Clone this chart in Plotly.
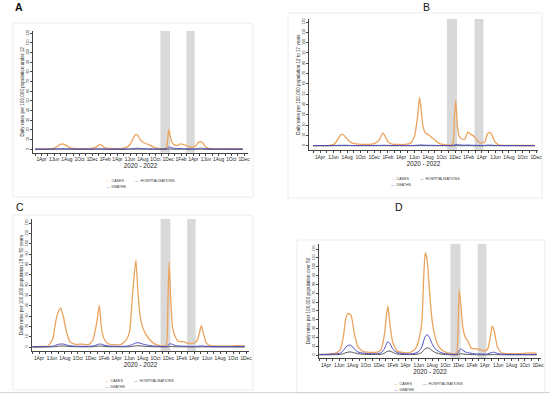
import pandas as pd
import plotly.graph_objects as go

# ---------------- data ----------------
DATES = [
    "2020-03-01", "2020-04-15", "2020-05-15", "2020-06-05", "2020-06-20", "2020-07-01", "2020-07-12",
    "2020-07-25", "2020-08-08", "2020-08-25", "2020-09-20", "2020-10-20", "2020-11-20", "2020-12-10",
    "2020-12-25", "2021-01-03", "2021-01-10", "2021-01-20", "2021-02-01", "2021-02-20", "2021-03-20",
    "2021-04-20", "2021-05-15", "2021-06-01", "2021-06-15", "2021-06-24", "2021-07-01", "2021-07-10",
    "2021-07-20", "2021-08-01", "2021-08-15", "2021-09-01", "2021-09-20", "2021-10-15", "2021-11-10",
    "2021-11-22", "2021-11-28", "2021-12-04", "2021-12-12", "2021-12-20", "2022-01-01", "2022-01-15",
    "2022-01-28", "2022-02-10", "2022-02-25", "2022-03-15", "2022-04-01", "2022-04-15", "2022-04-25",
    "2022-05-05", "2022-05-15", "2022-05-28", "2022-06-15", "2022-07-15", "2022-08-15", "2022-09-15",
    "2022-10-15", "2022-11-25",
]

A_CASES = [0.2, 0.3, 0.6, 1.5, 3.5, 5.0, 5.5, 4.5, 2.5, 1.2,
           0.8, 0.7, 0.8, 1.5, 3.0, 4.5, 5.0, 3.5, 1.5, 0.9,
           0.7, 0.8, 2.0, 5.0, 11.0, 14.5, 15.5, 14.0, 10.0, 7.5,
           6.0, 4.5, 2.5, 1.0, 0.8, 1.5, 8.0, 20.5, 13.0, 7.0,
           4.5, 4.0, 5.5, 5.0, 4.0, 2.5, 2.5, 4.0, 7.0, 8.0,
           7.0, 3.0, 1.0, 0.5, 0.4, 0.4, 0.5, 0.5]
A_DEATHS = [0.1, 0.1, 0.2, 0.3, 0.5, 0.6, 0.6, 0.5, 0.4, 0.3,
            0.2, 0.2, 0.2, 0.3, 0.4, 0.5, 0.5, 0.5, 0.3, 0.2,
            0.2, 0.2, 0.3, 0.5, 0.8, 1.0, 1.1, 1.0, 0.9, 0.7,
            0.6, 0.5, 0.4, 0.3, 0.3, 0.5, 1.2, 2.3, 2.0, 1.4,
            1.0, 0.8, 0.8, 0.7, 0.6, 0.5, 0.5, 0.6, 0.9, 1.1,
            1.0, 0.6, 0.3, 0.2, 0.2, 0.2, 0.2, 0.2]
A_HOSP = [0.0, 0.0, 0.05, 0.05, 0.1, 0.1, 0.1, 0.1, 0.1, 0.05,
          0.05, 0.05, 0.05, 0.05, 0.1, 0.1, 0.1, 0.1, 0.05, 0.05,
          0.05, 0.05, 0.05, 0.1, 0.1, 0.15, 0.15, 0.15, 0.1, 0.1,
          0.1, 0.05, 0.05, 0.05, 0.05, 0.05, 0.1, 0.2, 0.2, 0.15,
          0.1, 0.1, 0.1, 0.1, 0.05, 0.05, 0.05, 0.05, 0.1, 0.1,
          0.1, 0.05, 0.05, 0.0, 0.0, 0.0, 0.0, 0.0]

B_CASES = [0.0, 0.1, 0.3, 1.5, 6.0, 10.0, 11.0, 8.5, 5.0, 2.5,
           1.5, 1.2, 1.5, 3.0, 6.0, 10.0, 12.5, 9.0, 4.0, 1.5,
           1.2, 1.2, 2.5, 9.0, 28.0, 47.0, 35.0, 18.0, 12.5, 11.0,
           8.5, 5.5, 2.3, 1.0, 0.5, 2.5, 28.0, 44.0, 18.0, 9.0,
           6.5, 6.5, 13.5, 11.0, 9.0, 4.0, 2.5, 4.0, 11.0, 13.0,
           11.0, 4.5, 0.8, 0.3, 0.3, 0.2, 0.2, 0.2]
B_DEATHS = [0.05, 0.1, 0.1, 0.2, 0.3, 0.4, 0.4, 0.4, 0.3, 0.2,
            0.2, 0.2, 0.2, 0.3, 0.3, 0.4, 0.4, 0.4, 0.3, 0.2,
            0.2, 0.2, 0.2, 0.3, 0.5, 0.7, 0.7, 0.6, 0.5, 0.4,
            0.4, 0.3, 0.2, 0.2, 0.2, 0.3, 0.8, 1.3, 1.2, 0.8,
            0.6, 0.5, 0.6, 0.5, 0.4, 0.3, 0.3, 0.3, 0.5, 0.6,
            0.5, 0.3, 0.2, 0.1, 0.1, 0.1, 0.1, 0.1]
B_HOSP = [0.0, 0.0, 0.0, 0.05, 0.05, 0.05, 0.05, 0.05, 0.05, 0.05,
          0.0, 0.0, 0.0, 0.05, 0.05, 0.05, 0.05, 0.05, 0.05, 0.0,
          0.0, 0.0, 0.0, 0.05, 0.05, 0.1, 0.1, 0.1, 0.05, 0.05,
          0.05, 0.05, 0.0, 0.0, 0.0, 0.0, 0.05, 0.1, 0.1, 0.05,
          0.05, 0.05, 0.05, 0.05, 0.0, 0.0, 0.0, 0.0, 0.05, 0.05,
          0.05, 0.0, 0.0, 0.0, 0.0, 0.0, 0.0, 0.0]

C_CASES = [0.2, 0.5, 1.0, 8.0, 26.0, 34.0, 37.5, 29.0, 15.0, 5.0,
           2.6, 2.8, 2.3, 6.5, 19.5, 31.0, 40.5, 18.0, 8.0, 3.2,
           2.3, 2.3, 6.5, 14.6, 50.0, 72.0, 84.0, 55.0, 31.0, 19.5,
           13.0, 8.0, 4.0, 1.6, 1.0, 2.6, 36.0, 82.0, 45.0, 19.5,
           10.4, 5.8, 5.2, 5.2, 3.9, 3.2, 3.9, 6.5, 13.0, 21.0,
           13.0, 3.9, 1.3, 1.0, 0.8, 0.8, 1.2, 1.0]
C_DEATHS = [0.2, 0.3, 0.4, 0.8, 1.8, 2.6, 2.9, 2.8, 2.0, 1.2,
            0.8, 0.7, 0.7, 1.0, 1.8, 2.5, 2.9, 2.7, 1.8, 1.0,
            0.7, 0.6, 0.8, 1.3, 2.5, 3.3, 4.0, 4.2, 3.8, 3.0,
            2.2, 1.5, 1.0, 0.6, 0.4, 0.4, 1.2, 2.6, 3.2, 2.5,
            1.6, 1.1, 0.9, 0.8, 0.7, 0.6, 0.6, 0.7, 0.9, 1.1,
            1.0, 0.7, 0.5, 0.4, 0.4, 0.4, 0.4, 0.4]
C_HOSP = [0.05, 0.1, 0.1, 0.2, 0.5, 0.8, 0.9, 0.9, 0.7, 0.4,
          0.3, 0.2, 0.2, 0.3, 0.5, 0.8, 0.9, 0.9, 0.6, 0.3,
          0.2, 0.2, 0.2, 0.3, 0.6, 0.9, 1.1, 1.2, 1.1, 0.9,
          0.6, 0.4, 0.3, 0.2, 0.1, 0.1, 0.2, 0.4, 0.5, 0.4,
          0.3, 0.2, 0.2, 0.2, 0.15, 0.1, 0.1, 0.1, 0.1, 0.15,
          0.15, 0.1, 0.1, 0.05, 0.05, 0.05, 0.05, 0.05]

D_CASES = [0.8, 1.1, 2.0, 5.7, 21.0, 41.5, 47.0, 45.0, 26.0, 9.4,
           3.8, 3.0, 3.0, 6.4, 22.6, 43.0, 55.5, 34.0, 15.0, 4.9,
           3.0, 2.6, 6.4, 17.0, 36.0, 89.0, 116.0, 107.0, 74.0, 40.0,
           21.0, 9.4, 4.9, 2.3, 1.1, 2.0, 24.5, 74.0, 55.0, 32.0,
           20.0, 15.0, 7.5, 7.2, 6.8, 5.7, 4.5, 7.5, 19.0, 33.0,
           26.0, 9.4, 2.6, 1.5, 1.5, 1.5, 2.3, 2.0]
D_DEATHS = [0.5, 0.8, 1.2, 2.0, 5.0, 9.0, 11.0, 11.0, 7.0, 3.5,
            2.0, 1.5, 1.5, 2.5, 7.0, 12.0, 15.0, 13.0, 7.0, 3.0,
            1.5, 1.2, 2.0, 4.0, 9.0, 16.0, 21.0, 23.0, 20.0, 13.0,
            7.0, 4.0, 2.0, 1.0, 0.7, 0.8, 2.0, 5.0, 7.0, 5.5,
            3.5, 2.5, 2.0, 1.5, 1.2, 1.0, 1.0, 1.3, 2.2, 3.0,
            3.0, 1.8, 1.0, 0.7, 0.6, 0.6, 0.6, 0.6]
D_HOSP = [0.2, 0.3, 0.4, 0.7, 1.5, 2.5, 3.3, 3.4, 2.5, 1.5,
          0.8, 0.6, 0.6, 0.8, 2.0, 3.5, 4.3, 4.5, 3.0, 1.2,
          0.6, 0.5, 0.7, 1.2, 3.0, 5.5, 7.0, 8.0, 7.5, 5.0,
          3.0, 1.5, 0.8, 0.4, 0.3, 0.3, 0.5, 1.0, 1.5, 1.2,
          0.8, 0.6, 0.5, 0.4, 0.3, 0.3, 0.3, 0.3, 0.4, 0.5,
          0.5, 0.4, 0.3, 0.2, 0.2, 0.2, 0.2, 0.2]

BANDS = [("2021-10-25", "2021-12-10"), ("2022-02-27", "2022-04-08")]
Y_TICKS = list(range(0, 121, 10))
X_TITLE = "2020 - 2022"
LEGEND = ["CASES", "HOSPITALISATIONS", "DEATHS"]
Y_TITLES = {
    "A": "Daily rates per 100,000 population under 12",
    "B": "Daily rates per 100,000 population 12 to 17 years",
    "C": "Daily rates per 100,000 population 18 to 50 years",
    "D": "Daily rates per 100,000 population over 50",
}
SERIES = {
    "A": (A_CASES, A_HOSP, A_DEATHS),
    "B": (B_CASES, B_HOSP, B_DEATHS),
    "C": (C_CASES, C_HOSP, C_DEATHS),
    "D": (D_CASES, D_HOSP, D_DEATHS),
}

# ---------------- styling / layout (pixels) ----------------
W, H = 550, 397
FONT = "Liberation Sans, Arial, sans-serif"
C_CASES_COL = "#EBA45E"
C_HOSP_COL = "#3a3a3a"
C_DEATH_COL = "#4B4BC4"

PANELS = {
    # plot box, 1Apr2020 / 1Dec2022 pixel, y=0 / y=120 pixel
    "A": dict(left=33, right=248, p1=41.5, p2=244, top=31, bottom=152.7, p0=149.3, p120=33.3,
              card=(13, 23, 253, 197), letter=(13, 7, True), leg=(104, 181)),
    "B": dict(left=309, right=538, p1=320, p2=536, top=19, bottom=150, p0=145.7, p120=22,
              card=(288, 13, 542, 198), letter=(421, 7, False), leg=(389, 179)),
    "C": dict(left=32, right=249, p1=39, p2=246, top=219, bottom=351, p0=347, p120=223,
              card=(13, 215, 253, 390), letter=(14, 207, False), leg=(103, 381)),
    "D": dict(left=319, right=541, p1=326, p2=538, top=244, bottom=358, p0=355, p120=249,
              card=(297, 240, 545, 393), letter=(393, 207, False), leg=(392, 384)),
}

month_ticks = pd.date_range("2020-03-01", "2022-12-01", freq="MS")
apr1 = pd.Timestamp("2020-04-01")
dec1 = pd.Timestamp("2022-12-01")
tick_text = []
for d in month_ticks:
    k = (d.year - 2020) * 12 + d.month - 4
    tick_text.append(f"1{d.strftime('%b')}" if k >= 0 and k % 2 == 0 else "")

def xf(p):
    return p / W

def yf(p):
    return 1 - p / H

fig = go.Figure()
layout = dict(shapes=[], annotations=[])

for i, key in enumerate(["A", "B", "C", "D"]):
    P = PANELS[key]
    sfx = "" if i == 0 else str(i + 1)
    xa, ya = "x" + sfx, "y" + sfx
    cases, hosp, deaths = SERIES[key]

    # card
    cx0, cy0, cx1, cy1 = P["card"]
    layout["shapes"].append(dict(type="rect", xref="paper", yref="paper", x0=xf(cx0), x1=xf(cx1),
                                 y0=yf(cy1), y1=yf(cy0), line=dict(color="#ececec", width=1),
                                 fillcolor="rgba(0,0,0,0)", layer="below"))
    # shaded periods
    for b0, b1 in BANDS:
        layout["shapes"].append(dict(type="rect", xref=xa, yref=ya + " domain", x0=b0, x1=b1,
                                     y0=0, y1=1, fillcolor="#d9d9d9", line=dict(width=0),
                                     layer="below"))

    for vals, col, w in ((cases, C_CASES_COL, 1.3), (hosp, C_HOSP_COL, 0.9), (deaths, C_DEATH_COL, 1.0)):
        fig.add_trace(go.Scatter(x=DATES, y=vals, mode="lines", xaxis=xa, yaxis=ya,
                                 line=dict(color=col, width=w, shape="spline", smoothing=0.5),
                                 showlegend=False, hoverinfo="skip"))

    # axis ranges from pixel calibration
    s = (P["p2"] - P["p1"]) / (dec1 - apr1).days
    x0 = apr1 - pd.Timedelta(days=(P["p1"] - P["left"]) / s)
    x1 = dec1 + pd.Timedelta(days=(P["right"] - P["p2"]) / s)
    u = (P["p0"] - P["p120"]) / 120.0
    ylo = -(P["bottom"] - P["p0"]) / u
    yhi = 120 + (P["p120"] - P["top"]) / u

    layout["xaxis" + sfx] = dict(
        domain=[xf(P["left"]), xf(P["right"])], anchor=ya, type="date",
        range=[x0.strftime("%Y-%m-%d %H:%M"), x1.strftime("%Y-%m-%d %H:%M")],
        tickmode="array", tickvals=list(month_ticks), ticktext=tick_text,
        tickangle=0, tickfont=dict(size=4.8, color="#222", family=FONT),
        ticks="outside", ticklen=2, tickwidth=0.6, tickcolor="#444",
        showline=True, linecolor="#444", linewidth=0.8, showgrid=False, zeroline=False,
        title=dict(text=X_TITLE, font=dict(size=6.3, color="#222", family=FONT), standoff=0),
        automargin=False, fixedrange=True,
    )
    layout["yaxis" + sfx] = dict(
        domain=[yf(P["bottom"]), yf(P["top"])], anchor=xa, range=[ylo, yhi],
        tickmode="array", tickvals=Y_TICKS, tickangle=-90,
        tickfont=dict(size=3.6, color="#222", family=FONT),
        ticks="outside", ticklen=2, tickwidth=0.6, tickcolor="#444",
        showline=True, linecolor="#444", linewidth=0.8, showgrid=False, zeroline=False,
        title=dict(text=Y_TITLES[key], font=dict(size=4.6, color="#222", family=FONT), standoff=1),
        automargin=False, fixedrange=True,
    )

    # panel letter
    lx, ly, bold = P["letter"]
    layout["annotations"].append(dict(
        text=f"<b>{key}</b>" if bold else key, xref="paper", yref="paper", x=xf(lx), y=yf(ly),
        xanchor="left", yanchor="middle", showarrow=False,
        font=dict(size=10.5, color="#111", family=FONT)))

    # legend (two columns)
    gx, gy = P["leg"]
    items = [(LEGEND[0], C_CASES_COL, gx, gy), (LEGEND[1], C_HOSP_COL, gx + 29, gy),
             (LEGEND[2], C_DEATH_COL, gx, gy + 6)]
    for txt, col, ax_, ay_ in items:
        layout["annotations"].append(dict(
            text=f'<span style="color:{col}">—</span>  {txt}', xref="paper", yref="paper",
            x=xf(ax_), y=yf(ay_), xanchor="left", yanchor="middle", showarrow=False,
            font=dict(size=3.6, color="#333", family=FONT)))

# separator line near bottom
layout["shapes"].append(dict(type="line", xref="paper", yref="paper", x0=0, x1=1,
                             y0=yf(392.5), y1=yf(392.5), line=dict(color="#d5d5d5", width=1)))

fig.update_layout(width=W, height=H, margin=dict(l=0, r=0, t=0, b=0),
                  paper_bgcolor="white", plot_bgcolor="white", showlegend=False,
                  font=dict(family=FONT), **layout)
fig.write_html("out.html", config={"displayModeBar": False},
               post_script="document.body.style.margin='0';document.body.style.overflow='hidden';")
